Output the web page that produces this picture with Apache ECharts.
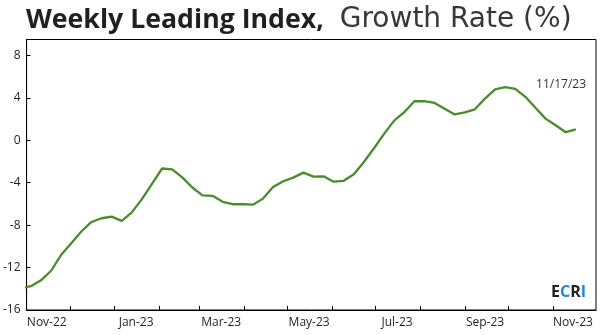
<!DOCTYPE html>
<html>
<head>
<meta charset="utf-8">
<script src="https://cdn.jsdelivr.net/npm/echarts@6/dist/echarts.min.js"></script>
<style>
  html, body { margin: 0; padding: 0; background: #fff; }
  #chart { width: 600px; height: 335px; }
</style>
</head>
<body>
<div id="chart"></div>
<script>
// Weekly observations (Fridays)
const weekDates = [
  '2022-10-28', '2022-11-04', '2022-11-11', '2022-11-18', '2022-11-25',
  '2022-12-02', '2022-12-09', '2022-12-16', '2022-12-23', '2022-12-30',
  '2023-01-06', '2023-01-13', '2023-01-20', '2023-01-27',
  '2023-02-03', '2023-02-10', '2023-02-17', '2023-02-24',
  '2023-03-03', '2023-03-10', '2023-03-17', '2023-03-24', '2023-03-31',
  '2023-04-07', '2023-04-14', '2023-04-21', '2023-04-28',
  '2023-05-05', '2023-05-12', '2023-05-19', '2023-05-26',
  '2023-06-02', '2023-06-09', '2023-06-16', '2023-06-23', '2023-06-30',
  '2023-07-07', '2023-07-14', '2023-07-21', '2023-07-28',
  '2023-08-04', '2023-08-11', '2023-08-18', '2023-08-25',
  '2023-09-01', '2023-09-08', '2023-09-15', '2023-09-22', '2023-09-29',
  '2023-10-06', '2023-10-13', '2023-10-20', '2023-10-27',
  '2023-11-03', '2023-11-10', '2023-11-17'
];

// Growth rate of the weekly leading index, %
const growthRate = [
  -13.95, -13.75, -13.2, -12.3, -10.8,
  -9.7, -8.6, -7.7, -7.35, -7.2,
  -7.6, -6.8, -5.55, -4.1,
  -2.66, -2.74, -3.5, -4.45,
  -5.2, -5.24, -5.8, -6.03, -6.02,
  -6.07, -5.5, -4.4, -3.86,
  -3.52, -3.05, -3.42, -3.4,
  -3.9, -3.82, -3.2, -2.05, -0.75,
  0.6, 1.85, 2.65, 3.68,
  3.68, 3.52, 2.98, 2.44,
  2.63, 2.92, 3.93, 4.8, 5.0,
  4.85, 4.1, 3.06, 2.04,
  1.41, 0.76, 1.03
];

// Month boundaries carry the x-axis ticks
const monthTicks = [
  '2022-12-01', '2023-01-01', '2023-02-01', '2023-03-01', '2023-04-01', '2023-05-01',
  '2023-06-01', '2023-07-01', '2023-08-01', '2023-09-01', '2023-10-01', '2023-11-01'
];
// Every other month is labelled, centred in its month
const monthLabels = ['2022-11-15', '2023-01-16', '2023-03-16', '2023-05-16', '2023-07-16', '2023-09-15', '2023-11-15'];

const yTicks = [-16, -12, -8, -4, 0, 4, 8];
const latestDate = '11/17/23';

const MONTHS = ['Jan', 'Feb', 'Mar', 'Apr', 'May', 'Jun', 'Jul', 'Aug', 'Sep', 'Oct', 'Nov', 'Dec'];
function ts(s) {
  const p = s.split('-').map(Number);
  return Date.UTC(p[0], p[1] - 1, p[2]);
}

const FONT = '"Open Sans", "Noto Sans", sans-serif';
const WIDE = '"DejaVu Sans", "Open Sans", sans-serif';
const INK = '#231f20';

const chart = echarts.init(document.getElementById('chart'), null, { renderer: 'canvas' });

chart.setOption({
  animation: false,
  backgroundColor: '#fff',
  title: {
    left: 21,
    top: 1,
    text: '{b|Weekly Leading Index,}{l|Growth Rate (%)}',
    textStyle: {
      rich: {
        b: { fontFamily: FONT, fontSize: 26.7, fontWeight: 'bold', color: INK },
        l: { fontFamily: WIDE, fontSize: 28, fontWeight: 'normal', color: '#383838', padding: [0, 0, 0, 16] }
      }
    }
  },
  grid: {
    left: 24, right: 4, top: 39.5, bottom: 25,
    show: true, borderColor: '#000', borderWidth: 1
  },
  // Dates are plotted as day timestamps on a linear axis
  xAxis: {
    type: 'value',
    min: ts('2022-11-01'),
    max: ts('2023-12-01'),
    splitLine: { show: false },
    axisLine: { onZero: false, lineStyle: { color: '#000', width: 1 } },
    axisTick: {
      inside: true, length: 4,
      lineStyle: { color: '#000' },
      customValues: monthTicks.map(ts)
    },
    axisLabel: {
      color: INK, fontFamily: FONT, fontSize: 12, margin: 7,
      customValues: monthLabels.map(ts),
      formatter: function (v) {
        const d = new Date(v);
        return MONTHS[d.getUTCMonth()] + '-' + String(d.getUTCFullYear()).slice(2);
      }
    }
  },
  yAxis: {
    type: 'value',
    min: -16,
    max: 9.5,
    splitLine: { show: false },
    axisLine: { show: true, onZero: false, lineStyle: { color: '#000', width: 1 } },
    axisTick: { show: true, inside: true, length: 4, lineStyle: { color: '#000' }, customValues: yTicks },
    axisLabel: { color: INK, fontFamily: FONT, fontSize: 12, margin: 6, customValues: yTicks }
  },
  series: [{
    type: 'line',
    data: weekDates.map((d, i) => [ts(d), growthRate[i]]),
    showSymbol: false,
    clip: true,
    lineStyle: { color: '#4a8b2c', width: 2.3 },
    itemStyle: { color: '#4a8b2c' }
  }],
  graphic: [
    {
      type: 'text', right: 14, top: 79,
      style: { text: latestDate, fontFamily: FONT, fontSize: 12, fill: '#333' }
    },
    {
      type: 'text', right: 14, top: 284,
      style: {
        text: '{k|E}{c|C}{k|R}{c|I}',
        rich: {
          k: { fontFamily: FONT, fontSize: 16, fontWeight: 'bold', fill: INK, color: INK },
          c: { fontFamily: FONT, fontSize: 16, fontWeight: 'bold', fill: '#1c8ad6', color: '#1c8ad6' }
        }
      }
    }
  ]
});
</script>
</body>
</html>
